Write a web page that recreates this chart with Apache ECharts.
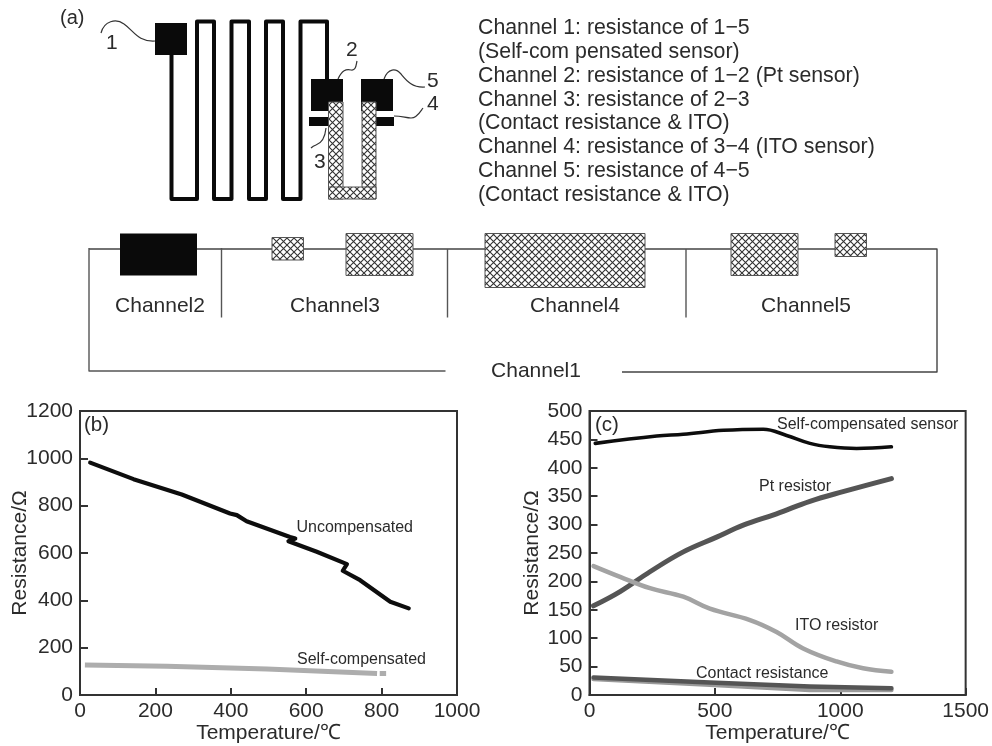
<!DOCTYPE html>
<html><head><meta charset="utf-8">
<style>html,body{margin:0;padding:0;background:#fff}#c{width:992px;height:746px}</style>
<script src="https://cdn.jsdelivr.net/npm/echarts@6/dist/echarts.min.js"></script>
</head><body><div id="c"></div>
<script>
// Panel (b)
const uncompTemp = [27,142,270,398,416,442,557,571,553,628,708,697,743,823,872];
const uncompRes  = [982,912,847,767,760,734,668,661,650,605,553,525,485,394,366];
const selfTempB  = [13,230,496,788,null,795,812];
const selfResB   = [127,121,110,91,null,91,91];
// Panel (c)
const selfTempC = [23,268,374,534,693,786,879,958,1065,1204];
const selfResC  = [443,456,459,466,468,457,443,437,434,437];
const ptTemp = [16,122,241,374,507,613,746,879,1011,1204];
const ptRes  = [157,182,217,252,278,299,319,341,358,381];
const itoTemp = [16,122,241,374,480,640,746,852,985,1091,1204];
const itoRes  = [227,208,188,173,152,132,111,82,59,47,41];
const contactTemp = [16,480,879,1204];
const contactResA = [31,22,15,12];
const contactResB = [28,18,9,9];
const channelInfo = ['Channel 1: resistance of 1\u22125','(Self-com pensated sensor)','Channel 2: resistance of 1\u22122 (Pt sensor)','Channel 3: resistance of 2\u22123','(Contact resistance & ITO)','Channel 4: resistance of 3\u22124 (ITO sensor)','Channel 5: resistance of 4\u22125','(Contact resistance & ITO)'];

const zip = (a,b)=>a.map((v,i)=> v===null ? [null,null] : [v,b[i]]);
const FONT='"Liberation Sans",Arial,sans-serif', INK='#2b2b2b';

// hatch pattern
const hc=document.createElement('canvas');hc.width=hc.height=7;
const hx=hc.getContext('2d');hx.fillStyle='#fff';hx.fillRect(0,0,7,7);
hx.strokeStyle='#333';hx.lineWidth=1.1;hx.beginPath();
hx.moveTo(0,0);hx.lineTo(7,7);hx.moveTo(7,0);hx.lineTo(0,7);hx.stroke();
const hatch={image:hc,repeat:'repeat'};

const G=[];
const txt=(x,y,t,size,opt={})=>G.push({type:'text',x,y:y+1,silent:true,style:Object.assign({text:t,font:size+'px '+FONT,fill:INK,verticalAlign:'middle'},opt)});
const rect=(x,y,w,h,fill,stroke)=>G.push({type:'rect',shape:{x,y,width:w,height:h},style:{fill,stroke:stroke||null,lineWidth:stroke?1:0},silent:true});
const poly=(pts,w,c)=>G.push({type:'polyline',shape:{points:pts},style:{fill:null,stroke:c,lineWidth:w,lineJoin:'round'},silent:true});
const wave=(x1,y1,c1x,c1y,c2x,c2y,x2,y2)=>G.push({type:'bezierCurve',shape:{x1,y1,cpx1:c1x,cpy1:c1y,cpx2:c2x,cpy2:c2y,x2,y2},style:{fill:null,stroke:'#333',lineWidth:1.2},silent:true});

// serpentine sensor
poly([[171.5,55],[171.5,199],[197,199],[197,21.5],[214,21.5],[214,199],[231.5,199],[231.5,21.5],[249,21.5],[249,199],[266,199],[266,21.5],[283,21.5],[283,199],[300.5,199],[300.5,21.5],[327,21.5],[327,79]],4,'#0a0a0a');
rect(155,23,32,32,'#0a0a0a');
rect(311,79,32,32,'#0a0a0a');
rect(361,79,32,32,'#0a0a0a');
rect(309,117,20,9,'#0a0a0a');
rect(376,117,18,9,'#0a0a0a');
rect(328.5,102,14.5,97,hatch,'#555');
rect(362,102,14,97,hatch,'#555');
rect(328.5,187,47.5,12,hatch,'#555');
wave(101,33,104,21,116,18,124,24); wave(124,24,134,31,138,42,155,41);
wave(338,79,342,70,346,69,351,70); wave(351,70,356,71,356,65,357,61);
wave(384,79,388,68,396,68,401,74); wave(401,74,406,80,412,88,425,87);
wave(394,116,402,116,406,118,411,118); wave(411,118,417,118,420,112,423,108);
wave(326,128,325,138,322,143,316,145); wave(316,145,313,146,312,147,311,148);
txt(60,17,'(a)',20);
txt(106,42,'1',21);txt(346,49,'2',21);txt(314,161,'3',21);txt(427,103,'4',21);txt(427,80,'5',21);

channelInfo.forEach((t,i)=>txt(478,[27,51,75,99,122,146,170,194][i],t,21.3));

// equivalent circuit
const wc='#555';
poly([[89,249],[937,249],[937,372],[622,372]],1.4,'#444');
poly([[89,248],[89,371],[445.5,371]],1.4,wc);
poly([[221.5,248],[221.5,317.5]],1.4,wc);
poly([[447.5,249],[447.5,317.5]],1.4,wc);
poly([[686,249],[686,317.5]],1.4,wc);
rect(120,233.5,77,42,'#0a0a0a');
rect(272,237.5,31.5,22.5,hatch,'#555');
rect(346,233.5,67,42,hatch,'#555');
rect(485,233.5,160,54,hatch,'#555');
rect(731,233.5,67,42,hatch,'#555');
rect(835,233.5,31.5,23,hatch,'#555');
[['Channel2',160],['Channel3',335],['Channel4',575],['Channel5',806]].forEach(([t,x])=>txt(x,305,t,21,{align:'center'}));
txt(536,370,'Channel1',21,{align:'center'});

// panel annotations
txt(84,424,'(b)',20.5);txt(595,424,'(c)',20.5);
txt(296.5,527,'Uncompensated',16);
txt(297,659,'Self-compensated',16);
txt(777,424,'Self-compensated sensor',16);
txt(759,486,'Pt resistor',16);
txt(795,625,'ITO resistor',16);
txt(696,673,'Contact resistance',16);

const plain=v=>String(v);
const xAx=(idx,max,iv)=>({type:'value',gridIndex:idx,min:0,max,interval:iv,name:'Temperature/\u2103',nameLocation:'middle',nameGap:28,nameMoveOverlap:false,
  nameTextStyle:{fontFamily:FONT,fontSize:21,color:INK},
  axisLine:{show:true,onZero:false,lineStyle:{color:'#333',width:2}},axisTick:{inside:true,length:7,lineStyle:{color:'#333',width:2}},
  axisLabel:{fontFamily:FONT,fontSize:21,color:INK,margin:6,formatter:plain,showMinLabel:true,showMaxLabel:true,hideOverlap:false},splitLine:{show:false}});
const yAx=(idx,max,iv,gap)=>({type:'value',gridIndex:idx,min:0,max,interval:iv,name:'Resistance/\u03A9',nameLocation:'middle',nameGap:gap,nameMoveOverlap:false,
  nameTextStyle:{fontFamily:FONT,fontSize:21,color:INK},
  axisLine:{show:true,onZero:false,lineStyle:{color:'#333',width:2}},axisTick:{inside:true,length:8,lineStyle:{color:'#333',width:2}},
  axisLabel:{fontFamily:FONT,fontSize:21,color:INK,margin:7,formatter:plain,showMinLabel:true,showMaxLabel:true,hideOverlap:false},splitLine:{show:false}});
const ser=(name,i,a,b,color,w,smooth,cap)=>({name,type:'line',xAxisIndex:i,yAxisIndex:i,data:zip(a,b),symbol:'none',smooth:smooth||false,connectNulls:false,
  lineStyle:{color,width:w,cap:cap||'round',join:'round'},silent:true,animation:false});

const chart=echarts.init(document.getElementById('c'),null,{renderer:'canvas'});
chart.setOption({animation:false,backgroundColor:'#fff',
 grid:[{left:80,top:411,width:377,height:284,show:true,borderColor:'#333',borderWidth:2,backgroundColor:'transparent'},
       {left:589.5,top:411,width:376.5,height:284,show:true,borderColor:'#333',borderWidth:2,backgroundColor:'transparent'}],
 xAxis:[xAx(0,1000,200),xAx(1,1500,500)],
 yAxis:[yAx(0,1200,200,49),yAx(1,500,50,47)],
 series:[
  ser('Uncompensated',0,uncompTemp,uncompRes,'#0d0d0d',4.2),
  ser('Self-compensated',0,selfTempB,selfResB,'#adadad',5,false,'butt'),
  ser('Self-compensated sensor',1,selfTempC,selfResC,'#0d0d0d',3.6,0.4),
  ser('Pt resistor',1,ptTemp,ptRes,'#555',5,0.4),
  ser('ITO resistor',1,itoTemp,itoRes,'#a3a3a3',4.5,0.4),
  ser('Contact resistance B',1,contactTemp,contactResB,'#9a9a9a',4.5),
  ser('Contact resistance A',1,contactTemp,contactResA,'#555',4.5)
 ],
 graphic:{elements:G}
});
</script></body></html>
